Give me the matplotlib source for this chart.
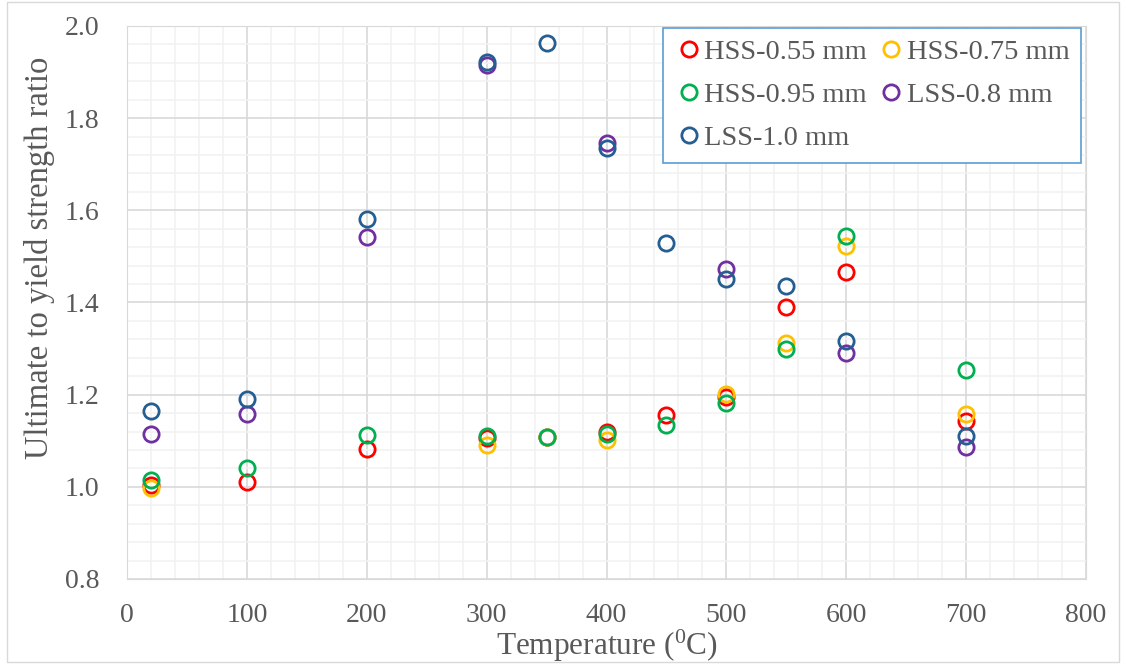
import matplotlib
matplotlib.use("Agg")
import matplotlib.pyplot as plt
from matplotlib.ticker import MultipleLocator, FormatStrFormatter
from matplotlib.patches import Rectangle

# temperatures (°C) and ultimate/yield ratios
t_hss055 = [20, 100, 200, 300, 350, 400, 450, 500, 550, 600, 700]
r_hss055 = [1.005, 1.011, 1.082, 1.106, 1.108, 1.119, 1.156, 1.195, 1.390, 1.466, 1.143]

t_hss075 = [20, 300, 350, 400, 500, 550, 600, 700]
r_hss075 = [0.998, 1.091, 1.108, 1.102, 1.201, 1.312, 1.523, 1.158]

t_hss095 = [20, 100, 200, 300, 350, 400, 450, 500, 550, 600, 700]
r_hss095 = [1.015, 1.041, 1.112, 1.111, 1.108, 1.114, 1.134, 1.181, 1.299, 1.544, 1.254]

t_lss08 = [20, 100, 200, 300, 400, 500, 600, 700]
r_lss08 = [1.115, 1.158, 1.542, 1.915, 1.746, 1.473, 1.290, 1.086]

t_lss10 = [20, 100, 200, 300, 350, 400, 450, 500, 550, 600, 700]
r_lss10 = [1.165, 1.191, 1.581, 1.922, 1.963, 1.735, 1.529, 1.451, 1.436, 1.316, 1.110]

series = [
    ("HSS-0.55 mm", t_hss055, r_hss055, "#FF0000"),
    ("HSS-0.75 mm", t_hss075, r_hss075, "#FFC000"),
    ("HSS-0.95 mm", t_hss095, r_hss095, "#00B050"),
    ("LSS-0.8 mm", t_lss08, r_lss08, "#7030A0"),
    ("LSS-1.0 mm", t_lss10, r_lss10, "#255E91"),
]

plt.rcParams["font.family"] = ["Liberation Serif", "DejaVu Serif"]
txt = "#595959"

fig = plt.figure(figsize=(11.26, 6.64), dpi=100)
fig.patches.append(Rectangle((0.006, 0.003), 0.988, 0.994, transform=fig.transFigure,
                             fill=False, edgecolor="#D9D9D9", linewidth=1.0))
ax = fig.add_axes([127 / 1126, 1 - 579 / 664, (1086 - 127) / 1126, (579 - 26) / 664])

handles = {}
for name, t, r, col in series:
    h, = ax.plot(t, r, linestyle="none", marker="o", markersize=11,
                 markerfacecolor="none", markeredgecolor=col, markeredgewidth=2.0,
                 label=name, zorder=3, clip_on=False)
    handles[name] = h

ax.set_xlim(0, 800)
ax.set_ylim(0.8, 2.0)
ax.xaxis.set_major_locator(MultipleLocator(100))
ax.xaxis.set_minor_locator(MultipleLocator(20))
ax.yaxis.set_major_locator(MultipleLocator(0.2))
ax.yaxis.set_minor_locator(MultipleLocator(0.04))
ax.yaxis.set_major_formatter(FormatStrFormatter("%.1f"))
ax.grid(which="major", color="#D9D9D9", linewidth=1.2, zorder=0)
ax.grid(which="minor", color="#F2F2F2", linewidth=1.2, zorder=0)
ax.set_axisbelow(True)
for s in ax.spines.values():
    s.set_color("#D9D9D9")
ax.tick_params(which="both", length=0, labelsize=20, labelcolor=txt)
ax.tick_params(axis="x", pad=17)
ax.tick_params(axis="y", pad=20)

ax.set_xlabel(r"Temperature ($\mathregular{^0}$C)", fontsize=22.5, color=txt)
ax.set_ylabel("Ultimate to yield strength ratio", fontsize=23.5, color=txt)
ax.xaxis.set_label_coords(0.5, -0.088)
ax.yaxis.set_label_coords(-0.075, 0.580)

order = ["HSS-0.55 mm", "HSS-0.95 mm", "LSS-1.0 mm", "HSS-0.75 mm", "LSS-0.8 mm"]
lg_top = 1 - 28 / 664
leg = ax.legend([handles[k] for k in order], order, ncol=2, fontsize=20.5,
                loc="upper left",
                bbox_to_anchor=(663 / 1126, lg_top - 0.01, (1081 - 663) / 1126, 0.01),
                bbox_transform=fig.transFigure, mode="expand", borderaxespad=0,
                frameon=True, fancybox=False,
                handlelength=1.0, handletextpad=0.05, columnspacing=0.8, labelspacing=0.6,
                borderpad=0.4, labelcolor=txt)
leg.get_frame().set_edgecolor("#5B9BD5")
leg.get_frame().set_linewidth(1.2)
leg.get_frame().set_alpha(1)

fig.savefig("out.png", dpi=100)
